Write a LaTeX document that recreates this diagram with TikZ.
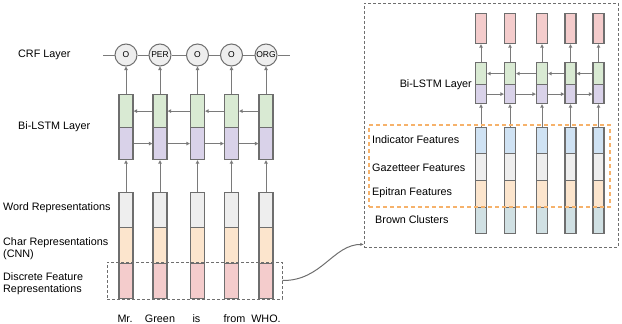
\documentclass[tikz,border=0pt]{standalone}
\usepackage{fontspec}
\setmainfont{Liberation Sans}
\usetikzlibrary{arrows.meta}
\definecolor{bordc}{HTML}{6E6E6E}
\definecolor{linec}{HTML}{7A7A7A}
\definecolor{greyf}{HTML}{EEEEEE}
\definecolor{peachf}{HTML}{FCE5CD}
\definecolor{pinkf}{HTML}{F4CCCC}
\definecolor{greenf}{HTML}{D9EAD3}
\definecolor{purplef}{HTML}{D9D2E9}
\definecolor{bluef}{HTML}{CFE2F3}
\definecolor{tealf}{HTML}{D0E0E3}
\definecolor{orangec}{HTML}{F6B26B}
\tikzset{
  cell/.style={draw=bordc, line width=1.2pt, rectangle, inner sep=0pt, anchor=north},
  lcell/.style={cell, minimum width=14pt},
  rcell/.style={cell, minimum width=11pt},
  crf/.style={draw=bordc, line width=1pt, circle, fill=greyf, minimum size=22pt, inner sep=0pt, font=\fontsize{8.5}{9}\selectfont},
  arr/.style={draw=linec, line width=1pt, -{Triangle[open,length=3.5pt,width=3.5pt]}},
  plain/.style={draw=linec, line width=1pt},
  lab/.style={anchor=west, inner sep=0pt, align=left},
  dashbox/.style={draw=bordc, line width=0.9pt, dash pattern=on 3pt off 2pt, rectangle, inner sep=0pt},
  orbox/.style={draw=orangec, line width=1.1pt, dash pattern=on 4pt off 3pt, rectangle, inner sep=0pt},
}
\begin{document}
\begin{tikzpicture}[x=1pt,y=-1pt, font=\fontsize{10.8}{12}\selectfont]
\useasboundingbox (0,0) rectangle (622,324);
% ---------- left diagram ----------
\foreach \i/\x in {1/126,2/160,3/197.5,4/231.5,5/266}{
  \node[lcell, fill=greenf, minimum height=33pt] (lg\i) at (\x,94) {};
  \node[lcell, fill=purplef, minimum height=32pt] (lp\i) at (\x,127) {};
  \node[lcell, fill=greyf, minimum height=35pt] (lw\i) at (\x,192) {};
  \node[lcell, fill=peachf, minimum height=36pt] (lc\i) at (\x,227) {};
  \node[lcell, fill=pinkf, minimum height=35pt] (ld\i) at (\x,263) {};
}
\node[crf] (c1) at (126,55) {O};
\node[crf] (c2) at (160,55) {PER};
\node[crf] (c3) at (197.5,55) {O};
\node[crf] (c4) at (231.5,55) {O};
\node[crf] (c5) at (266,55) {ORG};
\coordinate (crfL) at (103,55);
\coordinate (crfR) at (290,55);
\draw[plain] (crfL) -- (c1.west) (c1.east) -- (c2.west) (c2.east) -- (c3.west)
  (c3.east) -- (c4.west) (c4.east) -- (c5.west) (c5.east) -- (crfR);
\foreach \i in {1,...,5}{
  \draw[arr] (lg\i.north) -- (c\i.south);
  \draw[arr] (lw\i.north) -- (lp\i.south);
}
\foreach \i/\j in {1/2,2/3,3/4,4/5}{
  \draw[arr] (lg\j.west) -- (lg\i.east);
  \draw[arr] (lp\i.east) -- (lp\j.west);
}
\node[dashbox, minimum width=175pt, minimum height=37pt] (dl) at (194.5,280.5) {};
\node[lab] (tcrf) at (18,55) {CRF Layer};
\node[lab] (tbil) at (18,127) {Bi-LSTM Layer};
\node[lab] (tword) at (3,208) {Word Representations};
\node[lab] (tchar) at (3,249) {Char Representations\\(CNN)};
\node[lab] (tdisc) at (3,284) {Discrete Feature\\Representations};
\node (w1) at (125,319) {Mr.};
\node (w2) at (160,319) {Green};
\node (w3) at (196.5,319) {is};
\node (w4) at (234.5,319) {from};
\node (w5) at (266,319) {WHO.};
% ---------- right diagram ----------
\node[dashbox, minimum width=254pt, minimum height=244pt] (dr) at (491,125) {};
\foreach \i/\x in {1/481,2/510,3/542,4/570.5,5/598.5}{
  \node[rcell, fill=pinkf, minimum height=30pt] (rk\i) at (\x,13) {};
  \node[rcell, fill=greenf, minimum height=22pt] (rg\i) at (\x,62) {};
  \node[rcell, fill=purplef, minimum height=19pt] (rp\i) at (\x,84) {};
  \node[rcell, fill=bluef, minimum height=26pt] (ri\i) at (\x,127) {};
  \node[rcell, fill=greyf, minimum height=27pt] (rz\i) at (\x,153) {};
  \node[rcell, fill=peachf, minimum height=27pt] (re\i) at (\x,180) {};
  \node[rcell, fill=tealf, minimum height=26pt] (rb\i) at (\x,207) {};
  \draw[arr] (rg\i.north) -- (rk\i.south);
  \draw[arr] (ri\i.north) -- (rp\i.south);
}
\foreach \i/\j in {1/2,2/3,3/4,4/5}{
  \draw[arr] (rg\j.west) -- (rg\i.east);
  \draw[arr] (rp\i.east) -- (rp\j.west);
}
\node[orbox, minimum width=241pt, minimum height=82pt] (ob) at (489.5,166) {};
\node[anchor=east, inner sep=0pt] (rbil) at (472,85) {Bi-LSTM Layer};
\node[lab] (tind) at (372,140) {Indicator Features};
\node[lab] (tgaz) at (372,168) {Gazetteer Features};
\node[lab] (tepi) at (372,193) {Epitran Features};
\node[lab] (tbro) at (375,220) {Brown Clusters};
% ---------- connector ----------
\draw[draw=bordc, line width=1pt, -{Stealth[length=3.5pt,width=3pt]}] (dl.east) .. controls (322,281) and (333,244) .. ([yshift=3pt]dr.south west);
\end{tikzpicture}
\end{document}
